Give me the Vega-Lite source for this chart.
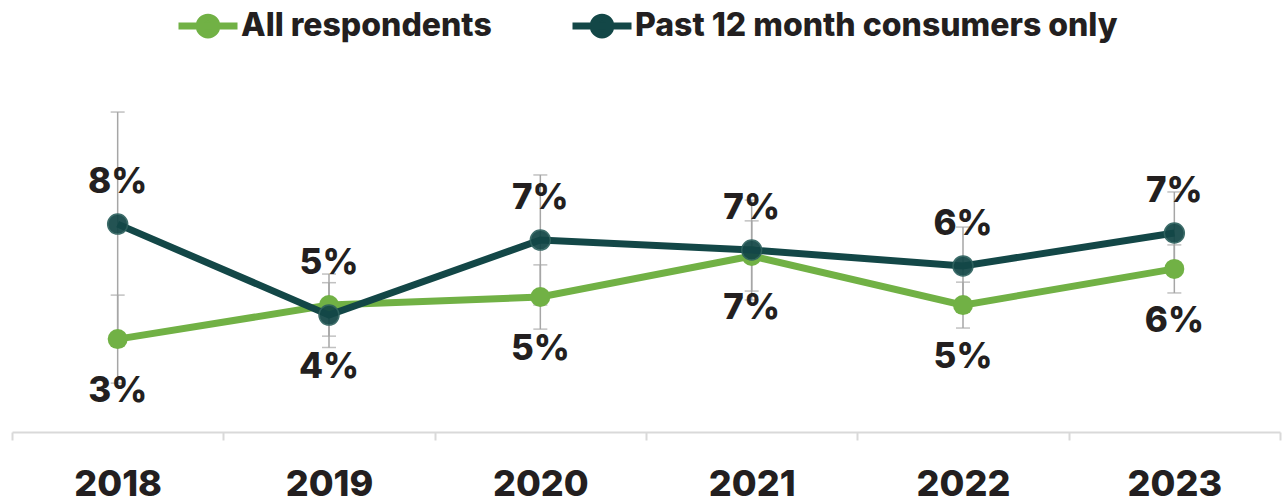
{
  "$schema": "https://vega.github.io/schema/vega-lite/v6.json",
  "width": 1268,
  "height": 378,
  "autosize": {"type": "none"},
  "padding": {"left": 12, "top": 54, "right": 3, "bottom": 69},
  "background": "#ffffff",
  "config": {"view": {"stroke": null}},
  "data": {
    "values": [
      {"series": "All respondents", "year": "2018", "value": 0.0344, "lower": 0.0181, "upper": 0.0507},
      {"series": "All respondents", "year": "2019", "value": 0.0470, "lower": 0.0355, "upper": 0.0585},
      {"series": "All respondents", "year": "2020", "value": 0.0500, "lower": 0.0381, "upper": 0.0619},
      {"series": "All respondents", "year": "2021", "value": 0.0652, "lower": 0.0522, "upper": 0.0782},
      {"series": "All respondents", "year": "2022", "value": 0.0470, "lower": 0.0385, "upper": 0.0555},
      {"series": "All respondents", "year": "2023", "value": 0.0604, "lower": 0.0515, "upper": 0.0693},
      {"series": "Past 12 month consumers only", "year": "2018", "value": 0.0770, "lower": 0.0355, "upper": 0.1185},
      {"series": "Past 12 month consumers only", "year": "2019", "value": 0.0433, "lower": 0.0313, "upper": 0.0553},
      {"series": "Past 12 month consumers only", "year": "2020", "value": 0.0711, "lower": 0.0470, "upper": 0.0952},
      {"series": "Past 12 month consumers only", "year": "2021", "value": 0.0674, "lower": 0.0489, "upper": 0.0859},
      {"series": "Past 12 month consumers only", "year": "2022", "value": 0.0615, "lower": 0.0471, "upper": 0.0759},
      {"series": "Past 12 month consumers only", "year": "2023", "value": 0.0737, "lower": 0.0585, "upper": 0.0889}
    ]
  },
  "encoding": {
    "x": {
      "field": "year", "type": "ordinal",
      "scale": {"type": "band", "paddingInner": 0, "paddingOuter": 0},
      "axis": {
        "title": null, "labelAngle": 0,
        "domainColor": "#d9d9d9", "domainWidth": 2,
        "tickColor": "#d9d9d9", "tickWidth": 2, "tickSize": 8, "tickBand": "extent",
        "labelFont": "Inter", "labelFontSize": 36, "labelFontWeight": 800,
        "labelColor": "#231f20", "labelPadding": 27, "grid": false
      }
    }
  },
  "layer": [
    {
      "mark": {"type": "errorbar", "color": "#a6a6a6", "thickness": 1.5, "ticks": {"size": 14, "thickness": 1.5}},
      "encoding": {
        "y": {"field": "lower", "type": "quantitative", "scale": {"domain": [0, 0.14]}, "axis": null},
        "y2": {"field": "upper"}
      }
    },
    {
      "transform": [{"filter": "datum.series === 'All respondents'"}],
      "layer": [
        {"mark": {"type": "line", "strokeWidth": 7}},
        {"mark": {"type": "point", "filled": true, "size": 400, "opacity": 1}}
      ],
      "encoding": {
        "y": {"field": "value", "type": "quantitative", "scale": {"domain": [0, 0.14]}, "axis": null},
        "color": {
          "field": "series", "type": "nominal",
          "scale": {"domain": ["All respondents", "Past 12 month consumers only"], "range": ["#71b145", "#134747"]},
          "legend": {
            "title": null, "orient": "none", "direction": "horizontal", "columns": 2,
            "legendX": 163, "legendY": -61, "padding": 0,
            "symbolType": "M-1,0L1,0M-0.3,0A0.3,0.3 0 1,1 0.3,0A0.3,0.3 0 1,1 -0.3,0Z",
            "symbolSize": 3481, "symbolStrokeWidth": 7,
            "labelFont": "Inter", "labelFontSize": 32, "labelFontWeight": 800,
            "labelColor": "#231f20", "labelLimit": 0, "labelOffset": 0, "columnPadding": 66,
            "encode": {
              "symbols": {
                "update": {
                  "fill": {"scale": "color", "field": "value"},
                  "stroke": {"scale": "color", "field": "value"},
                  "strokeWidth": {"value": 7},
                  "opacity": {"value": 1}
                }
              }
            }
          }
        }
      }
    },
    {
      "transform": [{"filter": "datum.series === 'Past 12 month consumers only'"}],
      "layer": [
        {"mark": {"type": "line", "strokeWidth": 7}},
        {"mark": {"type": "point", "filled": true, "size": 400, "opacity": 0.93, "stroke": "#2f625f", "strokeWidth": 1.5}}
      ],
      "encoding": {
        "y": {"field": "value", "type": "quantitative", "scale": {"domain": [0, 0.14]}, "axis": null},
        "color": {"field": "series", "type": "nominal"}
      }
    },
    {
      "transform": [{"filter": "(datum.series === 'Past 12 month consumers only' && datum.year !== '2019') || (datum.series === 'All respondents' && datum.year === '2019')"}],
      "mark": {"type": "text", "font": "Inter", "fontSize": 35, "fontWeight": 800, "baseline": "alphabetic", "dy": -31, "color": "#231f20"},
      "encoding": {
        "y": {"field": "value", "type": "quantitative", "scale": {"domain": [0, 0.14]}, "axis": null},
        "text": {"field": "value", "type": "quantitative", "format": ".0%"}
      }
    },
    {
      "transform": [{"filter": "!((datum.series === 'Past 12 month consumers only' && datum.year !== '2019') || (datum.series === 'All respondents' && datum.year === '2019'))"}],
      "mark": {"type": "text", "font": "Inter", "fontSize": 35, "fontWeight": 800, "baseline": "alphabetic", "dy": 63, "color": "#231f20"},
      "encoding": {
        "y": {"field": "value", "type": "quantitative", "scale": {"domain": [0, 0.14]}, "axis": null},
        "text": {"field": "value", "type": "quantitative", "format": ".0%"}
      }
    }
  ]
}
